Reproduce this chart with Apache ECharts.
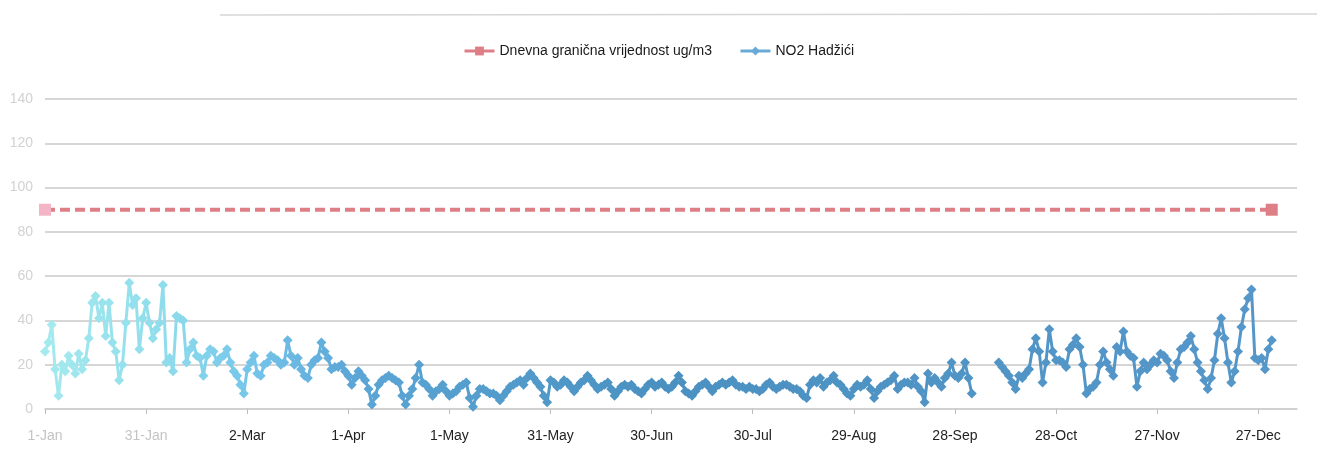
<!DOCTYPE html>
<html>
<head>
<meta charset="utf-8">
<script src="https://cdn.jsdelivr.net/npm/echarts@6/dist/echarts.min.js"></script>
<style>
  html, body { margin: 0; padding: 0; background: #fff; }
  #chart { width: 1317px; height: 459px; }
</style>
</head>
<body>
<div id="chart"></div>
<script>
// x tick labels, one every 30 days
const tickLabels = ['1-Jan', '31-Jan', '2-Mar', '1-Apr', '1-May', '31-May', '30-Jun',
  '30-Jul', '29-Aug', '28-Sep', '28-Oct', '27-Nov', '27-Dec']
const tickStep = 30

// daily NO2 values (ug/m3), one array per month
const jan = [26, 30, 38, 18, 6, 20, 17, 24, 20, 16, 25, 18, 22, 32, 48, 51, 41, 48, 33, 48, 30, 26, 13, 20, 39, 57, 47, 50, 27, 41, 48]
const feb = [39, 32, 36, 39, 56, 21, 23, 17, 42, 41, 40, 21, 27, 30, 24, 23, 15, 24, 27, 26, 21, 23, 24, 27, 21, 17, 15, 11]
const mar = [7, 18, 21, 24, 16, 15, 20, 21, 24, 23, 22, 20, 21, 31, 24, 20, 23, 18, 15, 14, 20, 22, 23, 30, 26, 23, 18, 19, 19, 20, 17]
const apr = [15, 11, 14, 17, 15, 13, 9, 2, 6, 11, 13, 14, 15, 14, 13, 12, 6, 2, 6, 9, 14, 20, 12, 11, 9, 6, 8, 9, 11, 8]
const may = [6, 7, 8, 10, 11, 12, 5, 1, 6, 9, 9, 8, 7, 7, 6, 4, 6, 8, 10, 11, 12, 13, 11, 14, 16, 14, 12, 10, 6, 3, 13]
const jun = [12, 10, 11, 13, 12, 10, 8, 10, 12, 13, 15, 13, 11, 9, 10, 11, 12, 9, 6, 8, 10, 11, 10, 11, 9, 8, 7, 9, 11, 12]
const jul = [10, 11, 12, 10, 9, 10, 12, 15, 12, 8, 7, 6, 8, 10, 11, 12, 10, 8, 10, 11, 12, 11, 12, 13, 11, 10, 10, 9, 10, 9, 9]
const aug = [8, 9, 11, 12, 10, 9, 10, 11, 11, 10, 9, 9, 8, 6, 5, 11, 13, 12, 14, 10, 12, 13, 15, 12, 11, 9, 7, 6, 9, 11, 10]
const sep = [11, 13, 9, 5, 8, 10, 11, 12, 13, 15, 9, 11, 12, 12, 11, 14, 10, 8, 3, 16, 12, 14, 12, 10, 14, 16, 21, 15, 14, 16]
const oct = [21, 14, 7, null, null, null, null, null, null, null, 21, 19, 17, 15, 12, 9, 15, 14, 16, 18, 27, 32, 26, 12, 21, 36, 26, 22, 22, 21, 19]
const nov = [27, 29, 32, 28, 20, 7, 9, 10, 12, 20, 26, 21, 18, 15, 28, 26, 35, 26, 24, 23, 10, 17, 21, 18, 20, 22, 21, 25, 24, 22]
const dec = [17, 14, 21, 27, 28, 30, 33, 27, 21, 17, 13, 9, 14, 22, 34, 41, 32, 21, 12, 17, 26, 37, 45, 50, 54, 23, 22, 23, 18, 27, 31]

// daily limit value, drawn from first to last day
const limitValues = [90, 90]

const no2 = [].concat(jan, feb, mar, apr, may, jun, jul, aug, sep, oct, nov, dec)
const lastDay = no2.length - 1

const font = "'Liberation Sans', Arial, sans-serif"

// the scan is washed out on the left: light cyan fading into steel blue
const fade = [
  [0, '#a4eaee'],
  [0.1, '#8edcec'],
  [0.17, '#74c4ea'],
  [0.25, '#5ba6d6'],
  [0.5, '#4a91c1'],
  [1, '#5697ca']
]

function fadeAt(t) {
  for (let i = 1; i < fade.length; i++) {
    if (t <= fade[i][0]) {
      const a = fade[i - 1], b = fade[i]
      return echarts.color.lerp((t - a[0]) / (b[0] - a[0]), [a[1], b[1]])
    }
  }
  return fade[fade.length - 1][1]
}

const chart = echarts.init(document.getElementById('chart'))

const lineFade = new echarts.graphic.LinearGradient(45, 0, 1272, 0,
  fade.map(s => ({ offset: s[0], color: s[1] })), true)

const option = {
  backgroundColor: '#fff',
  animation: false,

  legend: {
    left: 'center',
    top: 39,
    itemWidth: 30,
    itemHeight: 11,
    itemGap: 27,
    textStyle: { color: '#1a1a1a', fontSize: 14, fontFamily: font },
    data: [
      {
        name: 'Dnevna granična vrijednost ug/m3',
        lineStyle: { type: 'solid', color: '#de7e86', width: 3 },
        itemStyle: { color: '#de7e86' }
      },
      {
        name: 'NO2 Hadžići',
        lineStyle: { color: '#6aaad6', width: 3 },
        itemStyle: { color: '#6aaad6' }
      }
    ]
  },

  grid: { left: 45, right: 20, top: 99, bottom: 50 },

  xAxis: {
    type: 'value',
    min: 0,
    max: 371.5,
    interval: tickStep,
    axisLine: { lineStyle: { color: '#cfcfcf', width: 1.5 } },
    axisTick: {
      length: 5,
      lineStyle: { color: '#bdbdbd' },
      customValues: tickLabels.map((_, i) => i * tickStep)
    },
    splitLine: { show: false },
    axisLabel: {
      customValues: tickLabels.map((_, i) => i * tickStep),
      margin: 20,
      fontSize: 14,
      fontFamily: font,
      color: v => (v < 2 * tickStep ? '#c4c4c4' : '#222'),
      formatter: v => (v % tickStep === 0 ? tickLabels[v / tickStep] || '' : '')
    }
  },

  yAxis: {
    type: 'value',
    min: 0,
    max: 140,
    interval: 20,
    axisLine: { show: false },
    axisTick: { show: false },
    axisLabel: {
      margin: 12,
      fontSize: 14,
      fontFamily: font,
      color: v => (v === 140 || v === 120 ? '#7a7a7a' : v === 80 ? '#9a9a9a' : '#d2d2d2')
    },
    splitLine: { lineStyle: { color: '#c9c9c9', width: 1.5 } }
  },

  graphic: [
    {
      type: 'line',
      shape: { x1: 220, y1: 15, x2: 1317, y2: 14 },
      style: { stroke: '#d6d6d6', lineWidth: 1.5 }
    }
  ],

  series: [
    {
      name: 'Dnevna granična vrijednost ug/m3',
      type: 'line',
      data: [
        { value: [0, limitValues[0]], itemStyle: { color: '#f4b6c6' } },
        { value: [lastDay, limitValues[1]] }
      ],
      symbol: 'rect',
      symbolSize: 12,
      color: '#de7e86',
      lineStyle: { color: '#de7e86', width: 4, type: [10, 5] },
      itemStyle: { color: '#de7e86' },
      z: 2
    },
    {
      name: 'NO2 Hadžići',
      type: 'line',
      data: no2.map((v, i) => [i, v]),
      symbol: 'diamond',
      symbolSize: 10,
      showAllSymbol: true,
      connectNulls: false,
      color: '#4a91c1',
      lineStyle: { color: lineFade, width: 3 },
      itemStyle: { color: p => fadeAt(p.dataIndex / lastDay) },
      z: 3
    }
  ]
}

chart.setOption(option)
</script>
</body>
</html>
